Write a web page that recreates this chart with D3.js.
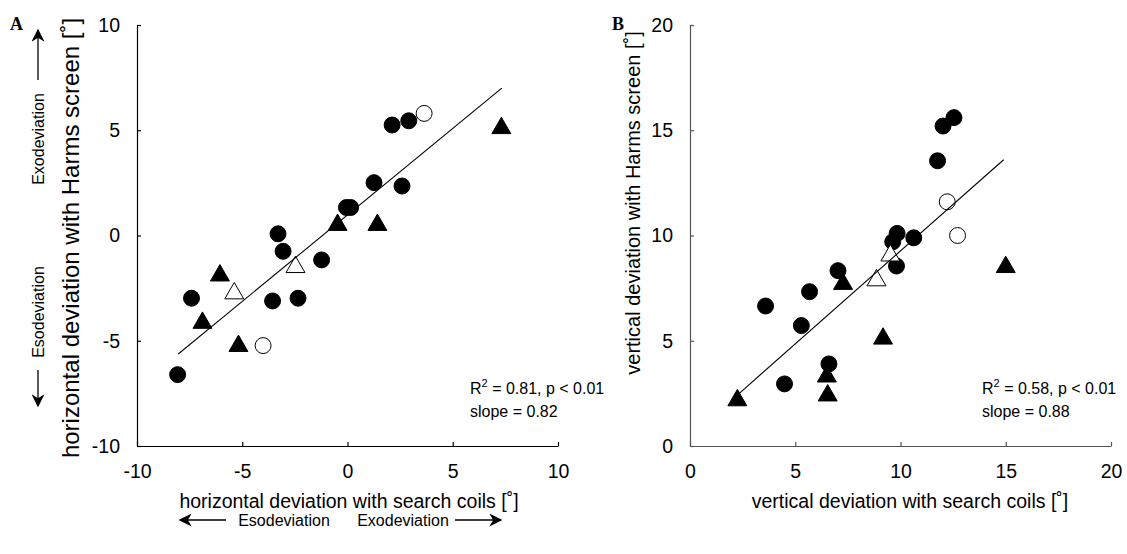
<!DOCTYPE html>
<html lang="en">
<head>
    <meta charset="UTF-8">
    <title>Deviation scatter</title>
    <style>
        body { margin: 0; background: #fff; }
        svg text { font-family: "Liberation Sans", Arial, sans-serif; fill: #000; }
    </style>
</head>
<body>
    <div class="vis"><svg width="1127" height="554"></svg></div>
    <script src="https://cdnjs.cloudflare.com/ajax/libs/d3/7.8.5/d3.min.js"></script>
    <script>
        // panel A: horizontal deviation (search coils, Harms screen)
        var aFilledCircles = [[2.12, 5.25], [2.91, 5.45], [1.26, 2.51], [2.59, 2.35], [-0.05, 1.33], [0.15, 1.33],
            [-3.3, 0.08], [-3.06, -0.75], [-1.23, -1.16], [-7.41, -2.98], [-3.56, -3.11], [-2.35, -2.98], [-8.07, -6.61]];
        var aOpenCircles = [[3.64, 5.8], [-4.01, -5.23]];
        var aFilledTriangles = [[7.31, 5.1], [-0.47, 0.5], [1.42, 0.5], [-6.06, -1.9], [-6.89, -4.15], [-5.18, -5.25]];
        var aOpenTriangles = [[-2.47, -1.5], [-5.38, -2.75]];
        var aFit = [[-8.04, -5.63], [7.33, 7.0]];
        var aTicks = [-10, -5, 0, 5, 10];

        // panel B: vertical deviation
        var bFilledCircles = [[9.84, 10.1], [9.63, 9.7], [10.63, 9.89], [9.81, 8.55], [7.03, 8.33], [5.68, 7.33],
            [3.59, 6.65], [5.29, 5.72], [6.6, 3.9], [4.49, 2.95], [12.54, 15.6], [12.02, 15.2], [11.76, 13.55]];
        var bOpenCircles = [[12.22, 11.6], [12.71, 10.0]];
        var bFilledTriangles = [[7.27, 7.7], [9.17, 5.1], [6.5, 3.3], [6.54, 2.4], [2.25, 2.17], [15.0, 8.5]];
        var bOpenTriangles = [[9.52, 9.05], [8.86, 7.87]];
        var bFit = [[2.25, 2.42], [14.9, 13.6]];
        var bTicks = [0, 5, 10, 15, 20];

        var svg = d3.select('.vis svg');

        function panel(opt) {
            var x = d3.scaleLinear().domain(opt.domain).range(opt.xRange);
            var y = d3.scaleLinear().domain(opt.domain).range([446, 25]);
            var g = svg.append('g');

            var xAxis = g.append('g')
                .attr('transform', 'translate(0,446)')
                .call(d3.axisBottom(x).tickValues(opt.ticks).tickSize(-4).tickSizeOuter(0)
                    .tickPadding(18).tickFormat(d => String(d)));
            var yAxis = g.append('g')
                .attr('transform', `translate(${opt.xRange[0]},0)`)
                .call(d3.axisLeft(y).tickValues(opt.ticks).tickSize(-4).tickSizeOuter(0)
                    .tickPadding(17).tickFormat(d => String(d)));
            [xAxis, yAxis].forEach(function (ax) {
                ax.selectAll('path, line').attr('stroke', opt.axisColor).attr('stroke-width', 1.2);
                ax.selectAll('text').style('font-size', '19.5px').attr('fill', '#000');
            });

            var circle = d3.symbol().type(d3.symbolCircle).size(200)();
            var tri = d3.symbol().type(d3.symbolTriangle).size(155)();

            function draw(data, path, fill) {
                g.selectAll(null)
                    .data(data)
                    .enter()
                    .append('path')
                    .attr('d', path)
                    .attr('transform', d => `translate(${x(d[0])},${y(d[1])})`)
                    .attr('fill', fill)
                    .attr('stroke', '#000')
                    .attr('stroke-width', 1);
            }
            draw(opt.filledCircles, circle, '#000');
            draw(opt.filledTriangles, tri, '#000');
            draw(opt.openCircles, circle, '#fff');
            draw(opt.openTriangles, tri, '#fff');

            g.append('path')
                .datum(opt.fit)
                .attr('d', d3.line().x(d => x(d[0])).y(d => y(d[1])))
                .attr('stroke', '#000')
                .attr('stroke-width', 1.1)
                .attr('fill', 'none');

            var ann = g.append('text')
                .attr('x', opt.annX)
                .attr('y', 394)
                .style('font-size', '16px');
            ann.append('tspan').text('R');
            ann.append('tspan').text('2').attr('dy', -7).style('font-size', '11px');
            ann.append('tspan').text(' = ' + opt.r2 + ', p < 0.01').attr('dy', 7);
            g.append('text')
                .attr('x', opt.annX)
                .attr('y', 417)
                .style('font-size', '16px')
                .text('slope = ' + opt.slope);

            g.append('text')
                .attr('x', opt.xTitleX)
                .attr('y', 508)
                .attr('text-anchor', 'middle')
                .style('font-size', '19.5px')
                .text(opt.xTitle);
            g.append('text')
                .attr('transform', `translate(${opt.yTitleX},${opt.yTitleY}) rotate(-90)`)
                .attr('text-anchor', 'middle')
                .style('font-size', opt.yTitleSize)
                .text(opt.yTitle);

            g.append('text')
                .attr('x', opt.letterX)
                .attr('y', 30)
                .style('font-family', '"Liberation Serif", "Times New Roman", serif')
                .style('font-weight', 'bold')
                .style('font-size', '18px')
                .text(opt.letter);
        }

        panel({
            domain: [-10, 10], xRange: [137, 558], ticks: aTicks, axisColor: '#000',
            filledCircles: aFilledCircles, openCircles: aOpenCircles,
            filledTriangles: aFilledTriangles, openTriangles: aOpenTriangles, fit: aFit,
            r2: '0.81', slope: '0.82', annX: 470,
            xTitle: 'horizontal deviation with search coils [\u02DA]', xTitleX: 349,
            yTitle: 'horizontal deviation with Harms screen [\u02DA]', yTitleX: 79, yTitleY: 238, yTitleSize: '24px',
            letter: 'A', letterX: 10
        });
        panel({
            domain: [0, 20], xRange: [690, 1111], ticks: bTicks, axisColor: '#555',
            filledCircles: bFilledCircles, openCircles: bOpenCircles,
            filledTriangles: bFilledTriangles, openTriangles: bOpenTriangles, fit: bFit,
            r2: '0.58', slope: '0.88', annX: 982,
            xTitle: 'vertical deviation with search coils [\u02DA]', xTitleX: 910,
            yTitle: 'vertical deviation with Harms screen [\u02DA]', yTitleX: 640, yTitleY: 203, yTitleSize: '20px',
            letter: 'B', letterX: 612
        });

        // direction hints (arrows)
        var defs = svg.append('defs');
        defs.append('marker')
            .attr('id', 'head')
            .attr('viewBox', '0 0 10 10')
            .attr('refX', 9).attr('refY', 5)
            .attr('markerWidth', 13).attr('markerHeight', 13)
            .attr('markerUnits', 'userSpaceOnUse')
            .attr('orient', 'auto')
            .append('path')
            .attr('d', 'M0,0 L10,5 L0,10 L3,5 Z')
            .attr('fill', '#000');

        var hints = [
            { x1: 226, y1: 520, x2: 180, y2: 520, label: 'Esodeviation', tx: 284, ty: 526, rot: 0 },
            { x1: 455, y1: 520, x2: 501, y2: 520, label: 'Exodeviation', tx: 403, ty: 526, rot: 0 },
            { x1: 38, y1: 80, x2: 38, y2: 30, label: 'Exodeviation', tx: 38, ty: 139, rot: -90 },
            { x1: 38, y1: 370, x2: 38, y2: 406, label: 'Esodeviation', tx: 38, ty: 312, rot: -90 }
        ];
        hints.forEach(function (h) {
            svg.append('line')
                .attr('x1', h.x1).attr('y1', h.y1).attr('x2', h.x2).attr('y2', h.y2)
                .attr('stroke', '#000').attr('stroke-width', 1.3)
                .attr('marker-end', 'url(#head)');
            svg.append('text')
                .attr('transform', `translate(${h.tx},${h.ty}) rotate(${h.rot})`)
                .attr('text-anchor', 'middle')
                .attr('dy', h.rot ? '0.35em' : 0)
                .style('font-size', '16px')
                .text(h.label);
        });
    </script>
</body>
</html>
